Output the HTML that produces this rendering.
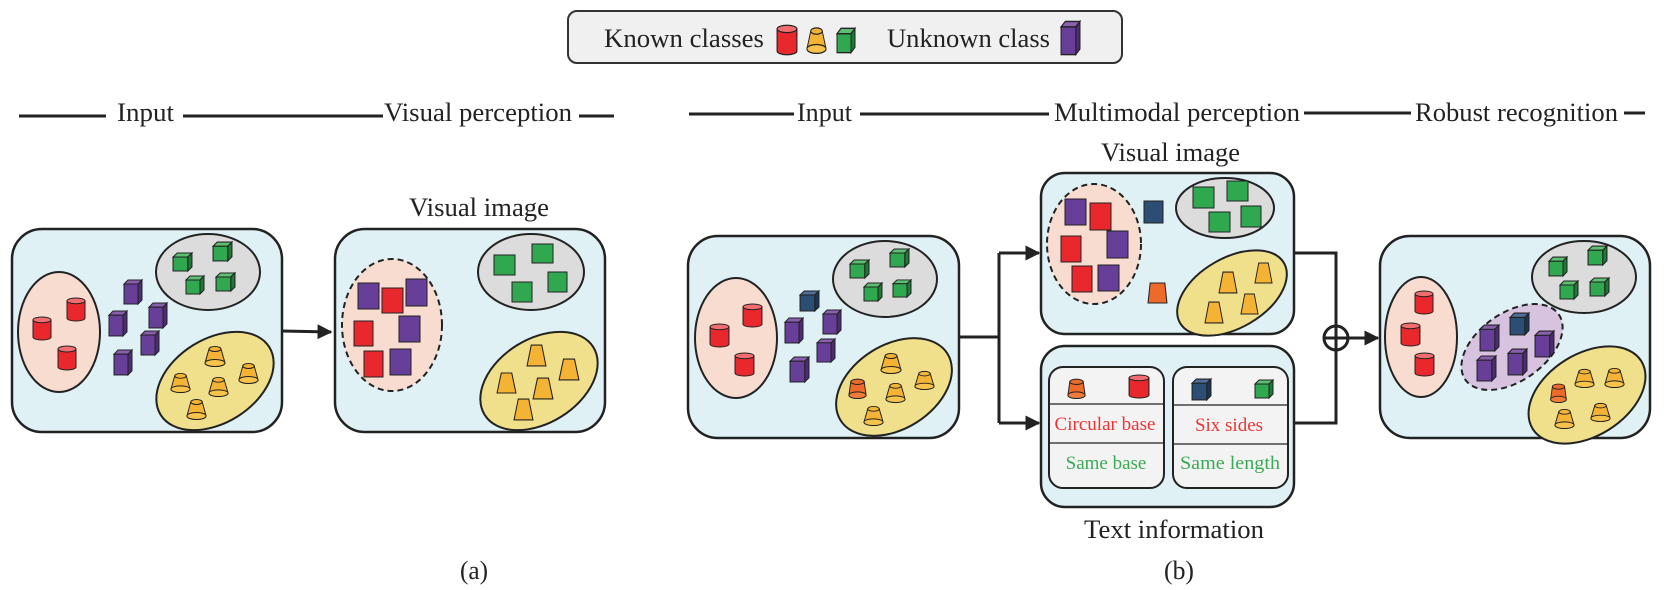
<!DOCTYPE html>
<html><head><meta charset="utf-8"><style>
html,body{margin:0;padding:0;background:#fff;}
svg{display:block;font-family:"Liberation Serif",serif;}
</style></head><body>
<svg width="1672" height="590" viewBox="0 0 1672 590" xmlns="http://www.w3.org/2000/svg">
<defs>
<symbol id="cyl" viewBox="0 0 20 26" preserveAspectRatio="none" overflow="visible">
<path d="M1,4 V22 A9,3 0 0 0 19,22 V4 Z" fill="#e8282c" stroke="#222" stroke-width="1"/>
<ellipse cx="10" cy="4" rx="9" ry="3" fill="#f26d70" stroke="#222" stroke-width="1"/></symbol>
<symbol id="cup" viewBox="0 0 24 22" preserveAspectRatio="none" overflow="visible">
<path d="M6,4 L2,18 A10,3.5 0 0 0 22,18 L18,4 Z" fill="#f5b335" stroke="#222" stroke-width="1"/>
<ellipse cx="12" cy="18" rx="10" ry="3.5" fill="#f8c34a" stroke="#222" stroke-width="1"/>
<ellipse cx="12" cy="4" rx="6" ry="2.5" fill="#f5b335" stroke="#222" stroke-width="1"/></symbol>
<symbol id="cupo" viewBox="0 0 24 22" preserveAspectRatio="none" overflow="visible">
<path d="M5,4 L3,18 A9,3.5 0 0 0 21,18 L19,4 Z" fill="#ec6a2a" stroke="#222" stroke-width="1"/>
<ellipse cx="12" cy="18" rx="9" ry="3.5" fill="#ef7a3a" stroke="#222" stroke-width="1"/>
<ellipse cx="12" cy="4" rx="7" ry="2.8" fill="#ec6a2a" stroke="#222" stroke-width="1"/></symbol>
<symbol id="gc" viewBox="0 0 20 20" preserveAspectRatio="none" overflow="visible">
<path d="M1,5 L5,1 L19,1 L15,5 Z" fill="#5cc070" stroke="#222" stroke-width="1"/>
<path d="M15,5 L19,1 L19,15 L15,19 Z" fill="#1f7a38" stroke="#222" stroke-width="1"/>
<rect x="1" y="5" width="14" height="14" fill="#2fa84f" stroke="#222" stroke-width="1"/></symbol>
<symbol id="pc" viewBox="0 0 20 26" preserveAspectRatio="none" overflow="visible">
<path d="M1,5 L5,1 L19,1 L15,5 Z" fill="#8a5fb0" stroke="#222" stroke-width="1"/>
<path d="M15,5 L19,1 L19,21 L15,25 Z" fill="#4c2c72" stroke="#222" stroke-width="1"/>
<rect x="1" y="5" width="14" height="20" fill="#673e98" stroke="#222" stroke-width="1"/></symbol>
<symbol id="nc" viewBox="0 0 20 22" preserveAspectRatio="none" overflow="visible">
<path d="M1,5 L5,1 L19,1 L15,5 Z" fill="#4e6f96" stroke="#222" stroke-width="1"/>
<path d="M15,5 L19,1 L19,17 L15,21 Z" fill="#1c3552" stroke="#222" stroke-width="1"/>
<rect x="1" y="5" width="14" height="16" fill="#2c4e74" stroke="#222" stroke-width="1"/></symbol>
<symbol id="tz" viewBox="0 0 20 22" preserveAspectRatio="none" overflow="visible">
<path d="M5,1 L15,1 L19,21 L1,21 Z" fill="#f5b335" stroke="#222" stroke-width="1"/></symbol>
<symbol id="tzo" viewBox="0 0 20 22" preserveAspectRatio="none" overflow="visible">
<path d="M3,1 L17,1 L19,21 L1,21 Z" fill="#ec6a2a" stroke="#222" stroke-width="1"/></symbol>
<marker id="ah" viewBox="0 0 10 10" refX="9" refY="5" markerWidth="5" markerHeight="5" orient="auto" markerUnits="strokeWidth"><path d="M0,0 L10,5 L0,10 Z" fill="#222"/></marker>
</defs>

<!-- legend -->
<rect x="568" y="11" width="554" height="52" rx="9" fill="#f0f0f0" stroke="#333" stroke-width="2"/>
<text x="604" y="47" font-size="26" textLength="160" lengthAdjust="spacingAndGlyphs" fill="#222">Known classes</text>
<use href="#cyl" x="776" y="24" width="22" height="32"/>
<use href="#cup" x="805" y="26" width="23" height="28"/>
<use href="#gc" x="836" y="27" width="20" height="27"/>
<text x="887" y="47" font-size="26" textLength="163" lengthAdjust="spacingAndGlyphs" fill="#222">Unknown class</text>
<use href="#pc" x="1060" y="20" width="21" height="36"/>

<!-- headers -->
<g stroke="#222" stroke-width="3">
<line x1="19" y1="116" x2="106" y2="116"/><line x1="183" y1="116" x2="383" y2="116"/><line x1="579" y1="116" x2="614" y2="116"/>
<line x1="689" y1="114" x2="794" y2="114"/><line x1="860" y1="114" x2="1049" y2="114"/><line x1="1304" y1="113" x2="1411" y2="113"/><line x1="1624" y1="113" x2="1645" y2="113"/>
</g>
<g font-size="26" fill="#222">
<text x="117" y="121" textLength="57" lengthAdjust="spacingAndGlyphs">Input</text>
<text x="384" y="121" textLength="188" lengthAdjust="spacingAndGlyphs">Visual perception</text>
<text x="797" y="121" textLength="55" lengthAdjust="spacingAndGlyphs">Input</text>
<text x="1054" y="121" textLength="246" lengthAdjust="spacingAndGlyphs">Multimodal perception</text>
<text x="1415" y="121" textLength="203" lengthAdjust="spacingAndGlyphs">Robust recognition</text>
<text x="409" y="216" textLength="140" lengthAdjust="spacingAndGlyphs">Visual image</text>
<text x="1101" y="161" textLength="139" lengthAdjust="spacingAndGlyphs">Visual image</text>
<text x="1084" y="538" textLength="180" lengthAdjust="spacingAndGlyphs">Text information</text>
<text x="460" y="579" textLength="28" lengthAdjust="spacingAndGlyphs">(a)</text>
<text x="1164" y="579" textLength="30" lengthAdjust="spacingAndGlyphs">(b)</text>
</g>

<!-- box a1 -->
<rect x="12" y="229" width="270" height="203" rx="30" fill="#dff1f5" stroke="#222" stroke-width="2.5"/>
<ellipse cx="59" cy="332" rx="41" ry="60" fill="#f9dcd0" stroke="#222" stroke-width="2"/>
<ellipse cx="208" cy="272" rx="52" ry="38" fill="#dcdcdc" stroke="#222" stroke-width="2"/>
<ellipse cx="215" cy="381" rx="64" ry="42" transform="rotate(-32 215 381)" fill="#f0e08c" stroke="#222" stroke-width="2"/>
<use href="#cyl" x="66" y="297" width="20" height="25"/><use href="#cyl" x="32" y="316" width="20" height="25"/><use href="#cyl" x="57" y="345" width="20" height="26"/>
<use href="#gc" x="172" y="252" width="21" height="20"/><use href="#gc" x="212" y="241" width="21" height="21"/><use href="#gc" x="185" y="275" width="20" height="20"/><use href="#gc" x="215" y="272" width="21" height="20"/>
<use href="#pc" x="123" y="279" width="20" height="26"/><use href="#pc" x="108" y="310" width="20" height="27"/><use href="#pc" x="148" y="302" width="20" height="27"/><use href="#pc" x="140" y="330" width="20" height="26"/><use href="#pc" x="113" y="349" width="20" height="27"/>
<use href="#cup" x="203" y="345" width="24" height="22"/><use href="#cup" x="169" y="372" width="23" height="21"/><use href="#cup" x="237" y="362" width="23" height="22"/><use href="#cup" x="207" y="376" width="23" height="21"/><use href="#cup" x="185" y="398" width="23" height="22"/>

<line x1="282" y1="331" x2="331" y2="332" stroke="#222" stroke-width="3" marker-end="url(#ah)"/>

<!-- box a2 -->
<rect x="335" y="229" width="270" height="203" rx="30" fill="#dff1f5" stroke="#222" stroke-width="2.5"/>
<ellipse cx="392" cy="325" rx="50" ry="66" fill="#f9dcd0" stroke="#222" stroke-width="2" stroke-dasharray="6,4"/>
<ellipse cx="531" cy="272" rx="53" ry="38" fill="#dcdcdc" stroke="#222" stroke-width="2"/>
<ellipse cx="539" cy="381" rx="64" ry="42" transform="rotate(-32 539 381)" fill="#f0e08c" stroke="#222" stroke-width="2"/>
<g stroke="#222" stroke-width="1">
<rect x="358" y="283" width="21" height="26" fill="#673e98"/><rect x="382" y="288" width="21" height="25" fill="#e8282c"/><rect x="406" y="279" width="21" height="27" fill="#673e98"/>
<rect x="354" y="321" width="19" height="25" fill="#e8282c"/><rect x="399" y="316" width="21" height="26" fill="#673e98"/>
<rect x="364" y="351" width="19" height="26" fill="#e8282c"/><rect x="390" y="349" width="21" height="26" fill="#673e98"/>
<rect x="494" y="255" width="21" height="20" fill="#2fa84f"/><rect x="532" y="244" width="21" height="19" fill="#2fa84f"/><rect x="512" y="282" width="20" height="20" fill="#2fa84f"/><rect x="548" y="272" width="19" height="20" fill="#2fa84f"/>
</g>
<use href="#tz" x="526" y="344" width="21" height="23"/><use href="#tz" x="496" y="372" width="21" height="22"/><use href="#tz" x="558" y="358" width="22" height="23"/><use href="#tz" x="532" y="377" width="22" height="23"/><use href="#tz" x="513" y="398" width="21" height="23"/>

<!-- box b1 -->
<rect x="688" y="236" width="271" height="202" rx="30" fill="#dff1f5" stroke="#222" stroke-width="2.5"/>
<ellipse cx="736" cy="338" rx="41" ry="60" fill="#f9dcd0" stroke="#222" stroke-width="2"/>
<ellipse cx="885" cy="279" rx="52" ry="38" fill="#dcdcdc" stroke="#222" stroke-width="2"/>
<ellipse cx="894" cy="387" rx="63" ry="42" transform="rotate(-32 894 387)" fill="#f0e08c" stroke="#222" stroke-width="2"/>
<use href="#cyl" x="742" y="303" width="21" height="25"/><use href="#cyl" x="709" y="323" width="21" height="25"/><use href="#cyl" x="734" y="352" width="21" height="25"/>
<use href="#nc" x="799" y="290" width="21" height="22"/>
<use href="#pc" x="784" y="317" width="20" height="27"/><use href="#pc" x="822" y="309" width="20" height="26"/><use href="#pc" x="816" y="338" width="20" height="25"/><use href="#pc" x="789" y="356" width="21" height="27"/>
<use href="#gc" x="849" y="259" width="21" height="20"/><use href="#gc" x="889" y="248" width="21" height="20"/><use href="#gc" x="863" y="282" width="20" height="20"/><use href="#gc" x="892" y="279" width="20" height="19"/>
<use href="#cup" x="879" y="352" width="24" height="22"/><use href="#cupo" x="846" y="378" width="23" height="21"/><use href="#cup" x="913" y="370" width="23" height="20"/><use href="#cup" x="884" y="382" width="23" height="21"/><use href="#cup" x="862" y="405" width="23" height="21"/>

<!-- connectors b -->
<g stroke="#222" stroke-width="3" fill="none">
<polyline points="959,337 999,337"/><polyline points="999,253 999,423"/>
<line x1="999" y1="253" x2="1039" y2="253" marker-end="url(#ah)"/>
<line x1="999" y1="423" x2="1039" y2="423" marker-end="url(#ah)"/>
<polyline points="1294,253 1336,253 1336,325"/>
<polyline points="1294,423 1336,423 1336,351"/>
<circle cx="1336" cy="338" r="12" stroke-width="3"/>
<line x1="1324" y1="338" x2="1348" y2="338"/><line x1="1336" y1="326" x2="1336" y2="350"/>
<line x1="1348" y1="338" x2="1378" y2="338" marker-end="url(#ah)"/>
</g>

<!-- box b2 -->
<rect x="1041" y="173" width="253" height="161" rx="24" fill="#dff1f5" stroke="#222" stroke-width="2.5"/>
<ellipse cx="1094" cy="244" rx="47" ry="60" fill="#f9dcd0" stroke="#222" stroke-width="2" stroke-dasharray="6,4"/>
<ellipse cx="1225" cy="208" rx="49" ry="30" fill="#dcdcdc" stroke="#222" stroke-width="2"/>
<ellipse cx="1232" cy="293" rx="60" ry="35" transform="rotate(-30 1232 293)" fill="#f0e08c" stroke="#222" stroke-width="2"/>
<g stroke="#222" stroke-width="1">
<rect x="1065" y="199" width="21" height="26" fill="#673e98"/><rect x="1090" y="203" width="21" height="27" fill="#e8282c"/>
<rect x="1061" y="236" width="20" height="26" fill="#e8282c"/><rect x="1107" y="231" width="21" height="27" fill="#673e98"/>
<rect x="1072" y="266" width="20" height="26" fill="#e8282c"/><rect x="1098" y="265" width="21" height="26" fill="#673e98"/>
<rect x="1144" y="201" width="19" height="22" fill="#2c4e74"/>
<rect x="1193" y="187" width="21" height="21" fill="#2fa84f"/><rect x="1227" y="181" width="21" height="20" fill="#2fa84f"/><rect x="1209" y="212" width="21" height="20" fill="#2fa84f"/><rect x="1241" y="206" width="20" height="21" fill="#2fa84f"/>
</g>
<use href="#tzo" x="1147" y="282" width="21" height="22"/>
<use href="#tz" x="1254" y="262" width="19" height="22"/><use href="#tz" x="1218" y="271" width="20" height="23"/><use href="#tz" x="1240" y="293" width="19" height="22"/><use href="#tz" x="1204" y="301" width="20" height="23"/>

<!-- box b3 -->
<rect x="1041" y="346" width="253" height="161" rx="24" fill="#dff1f5" stroke="#222" stroke-width="2.5"/>
<rect x="1049" y="367" width="115" height="121" rx="14" fill="#f3f3f3" stroke="#222" stroke-width="2"/>
<rect x="1173" y="367" width="115" height="121" rx="14" fill="#f3f3f3" stroke="#222" stroke-width="2"/>
<g stroke="#222" stroke-width="1.3">
<line x1="1049" y1="404" x2="1164" y2="404"/><line x1="1049" y1="443" x2="1164" y2="443"/>
<line x1="1173" y1="405" x2="1288" y2="405"/><line x1="1173" y1="444" x2="1288" y2="444"/>
</g>
<use href="#cupo" x="1065" y="378" width="23" height="21"/>
<use href="#cyl" x="1128" y="374" width="22" height="25"/>
<use href="#nc" x="1191" y="378" width="21" height="23"/>
<use href="#gc" x="1254" y="379" width="20" height="20"/>
<g font-size="19" text-anchor="middle">
<text x="1105" y="430" fill="#ee3333" textLength="101" lengthAdjust="spacingAndGlyphs">Circular base</text>
<text x="1106" y="469" fill="#3aaa55">Same base</text>
<text x="1229" y="431" fill="#ee3333">Six sides</text>
<text x="1230" y="469" fill="#3aaa55" textLength="100" lengthAdjust="spacingAndGlyphs">Same length</text>
</g>

<!-- box b4 -->
<rect x="1380" y="236" width="270" height="202" rx="30" fill="#dff1f5" stroke="#222" stroke-width="2.5"/>
<ellipse cx="1421" cy="337" rx="36" ry="60" fill="#f9dcd0" stroke="#222" stroke-width="2"/>
<ellipse cx="1584" cy="277" rx="52" ry="36" fill="#dcdcdc" stroke="#222" stroke-width="2"/>
<ellipse cx="1512" cy="347" rx="57" ry="34" transform="rotate(-35 1512 347)" fill="#d7c2e0" stroke="#222" stroke-width="2" stroke-dasharray="6,4"/>
<ellipse cx="1587" cy="395" rx="64" ry="41" transform="rotate(-32 1587 395)" fill="#f0e08c" stroke="#222" stroke-width="2"/>
<use href="#cyl" x="1414" y="290" width="20" height="25"/><use href="#cyl" x="1400" y="322" width="21" height="25"/><use href="#cyl" x="1414" y="352" width="21" height="25"/>
<use href="#gc" x="1548" y="256" width="20" height="21"/><use href="#gc" x="1587" y="245" width="21" height="21"/><use href="#gc" x="1559" y="280" width="20" height="20"/><use href="#gc" x="1589" y="277" width="21" height="20"/>
<use href="#nc" x="1509" y="312" width="21" height="24"/>
<use href="#pc" x="1479" y="324" width="21" height="28"/><use href="#pc" x="1534" y="330" width="21" height="28"/><use href="#pc" x="1476" y="355" width="21" height="27"/><use href="#pc" x="1507" y="348" width="21" height="28"/>
<use href="#cupo" x="1548" y="383" width="21" height="20"/><use href="#cup" x="1573" y="368" width="23" height="20"/><use href="#cup" x="1603" y="367" width="23" height="21"/><use href="#cup" x="1553" y="408" width="23" height="21"/><use href="#cup" x="1589" y="402" width="23" height="20"/>
</svg>
</body></html>
